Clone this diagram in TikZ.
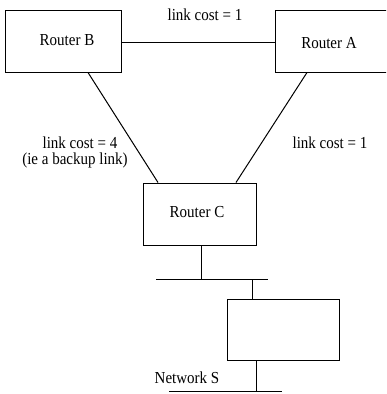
\documentclass[tikz,border=0pt]{standalone}
\usepackage{fontspec}
\setmainfont{Liberation Serif}
\usetikzlibrary{calc}
\newcommand{\tallt}[1]{\scalebox{1}[1.12]{#1}}
\begin{document}
\begin{tikzpicture}[x=1pt,y=-1pt,
  box/.style={draw,line width=1pt,minimum width=#1,minimum height=62pt,inner sep=0pt},
  lbl/.style={inner sep=0pt,font=\fontsize{15}{17}\selectfont},
  wire/.style={line width=1pt}]
\useasboundingbox (0,0) rectangle (386,394);
\clip (0,0) rectangle (386,394);
\node[box=116pt] (B) at (63,41) {};
\node[box=116pt] (A) at (333,41) {};
\node[box=113pt] (C) at (199.5,214) {};
\node[box=112pt,minimum height=61pt] (D) at (283,329.5) {};
\node[lbl] (tB) at (67,40) {\tallt{Router B}};
\node[lbl] (tA) at (329,43) {\tallt{Router A}};
\node[lbl] (tC) at (197,212) {\tallt{Router C}};
\node[lbl] (l1) at (205,15) {\tallt{link cost = 1}};
\node[lbl] (l4) at (80,143) {\tallt{link cost = 4}};
\node[lbl] (l4b) at (75,160) {\tallt{(ie a backup link)}};
\node[lbl] (l1b) at (330,143) {\tallt{link cost = 1}};
\node[lbl] (nS) at (187,378) {\tallt{Network S}};
\coordinate (bus1l) at (156,279);
\coordinate (bus1r) at (268,279);
\coordinate (bus2l) at (169,391);
\coordinate (bus2r) at (282,391);
\draw[wire] (B.east |- 0,42) -- (A.west |- 0,42);
\draw[wire] ([xshift=25pt]B.south) -- ([xshift=-41.5pt]C.north);
\draw[wire] ([xshift=-26pt]A.south) -- ([xshift=36.5pt]C.north);
\draw[wire] ([xshift=1.5pt]C.south) -- ([xshift=1.5pt]C.south |- bus1l);
\draw[wire] (bus1l) -- (bus1r);
\draw[wire] ([xshift=-31pt]D.north |- bus1l) -- ([xshift=-31pt]D.north);
\draw[wire] ([xshift=-27pt]D.south) -- ([xshift=-27pt]D.south |- bus2l);
\draw[wire] (bus2l) -- (bus2r);
\end{tikzpicture}
\end{document}
